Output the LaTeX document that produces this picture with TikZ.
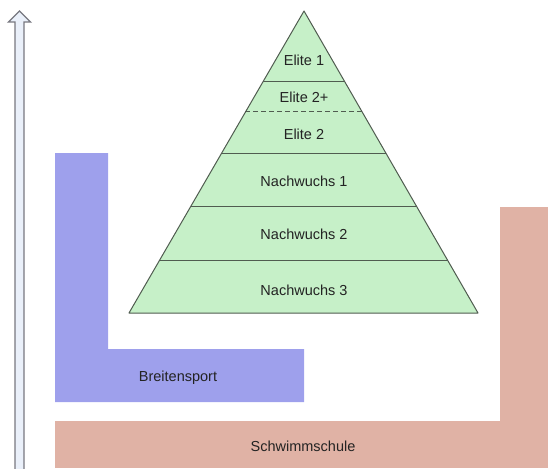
\documentclass[tikz,border=0pt]{standalone}
\usepackage{fontspec}
\setmainfont{Liberation Sans}
\usetikzlibrary{calc}
\definecolor{levelgreen}{RGB}{198, 240, 200}
\definecolor{breitenblue}{RGB}{158, 160, 236}
\definecolor{schulrose}{RGB}{224, 178, 165}
\definecolor{arrowfill}{RGB}{234, 240, 250}
\definecolor{arrowgray}{RGB}{120, 120, 128}
\definecolor{edgegray}{RGB}{80, 92, 80}
\definecolor{textgray}{RGB}{35, 35, 35}

\begin{document}
\begin{tikzpicture}[x=1pt, y=-1pt, every node/.style={font=\fontsize{14.5}{16}\selectfont, text=textgray}]
        \useasboundingbox (0, 0) rectangle (548, 468);

        % Base areas
        \fill[schulrose] (55, 421) rectangle (548, 468);
        \fill[schulrose] (500, 207) rectangle (548, 421);
        \fill[breitenblue] (55, 153) -- (108, 153) -- (108, 349) -- (304, 349) -- (304, 402) -- (55, 402) -- cycle;
        \node (schule) at (303, 446) {Schwimmschule};
        \node (breite) at (178, 378) {Breitensport};

        % Pyramid
        \coordinate (apex) at (304, 11);
        \coordinate (baseL) at (129, 313);
        \coordinate (baseR) at (478, 313);
        \draw[edgegray, line width=1pt, fill=levelgreen, line join=round] (apex) -- (baseL) -- (baseR) -- cycle;
        \foreach \t in {0.2318, 0.4702, 0.6457, 0.8278}
            \draw[edgegray, line width=1pt] ($(apex)!\t!(baseL)$) -- ($(apex)!\t!(baseR)$);
        \draw[edgegray, line width=1pt, dash pattern=on 5pt off 3pt] ($(apex)!0.3344!(baseL)$) -- ($(apex)!0.3344!(baseR)$);

        % Levels
        \node (elite1) at (304, 60) {Elite 1};
        \node (elite2p) at (304, 97) {Elite 2+};
        \node (elite2) at (304, 134) {Elite 2};
        \node (nach1) at (304, 181) {Nachwuchs 1};
        \node (nach2) at (304, 234) {Nachwuchs 2};
        \node (nach3) at (304, 290) {Nachwuchs 3};

        % Vertical arrow
        \draw[arrowgray, fill=arrowfill, line width=1.3pt, line join=miter] (15, 469) -- (15, 22) -- (8.5, 22) -- (19.5, 11) -- (30.5, 22) -- (24, 22) -- (24, 469);
    \end{tikzpicture}
\end{document}
